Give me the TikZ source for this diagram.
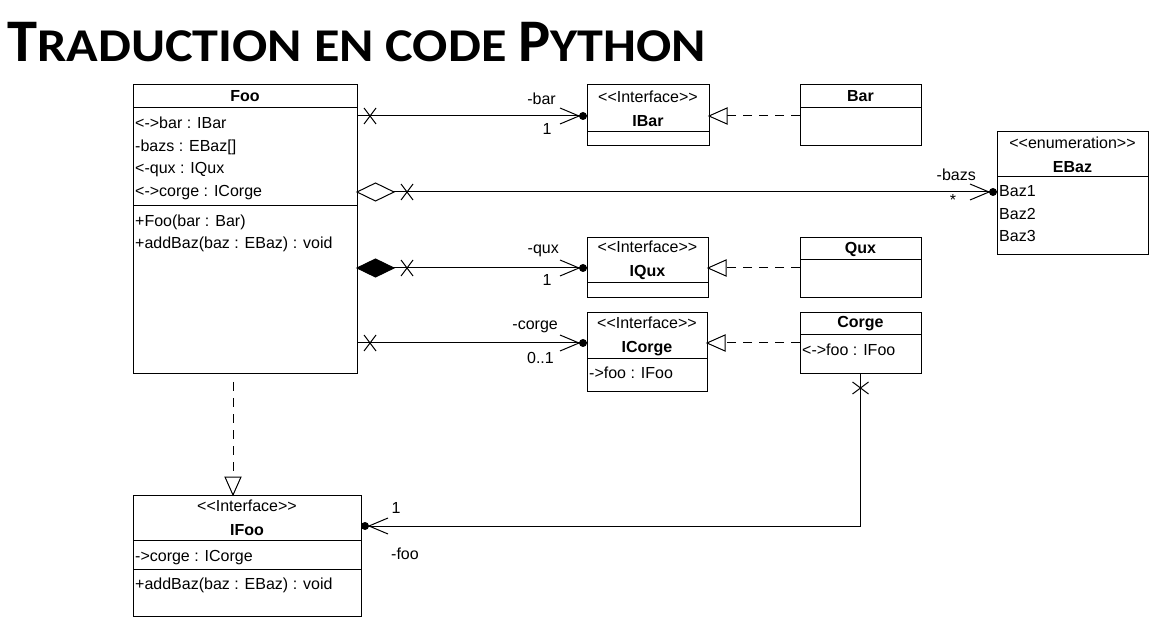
\documentclass[tikz,border=0pt]{standalone}
\usepackage{fontspec}
\setmainfont{Liberation Sans}
\newfontfamily\titlefont{Carlito}
\newfontfamily\titlesc{Carlito}[FakeStretch = 1.11]

\tikzset{
  umlbox/.style = {draw, line width = 1pt, inner sep = 0pt, outer sep = 0pt, anchor = north west, align = center, font = \fontsize{16}{24}\selectfont},
  attr/.style = {inner sep = 0pt, anchor = west, font = \fontsize{16}{18}\selectfont, text height = 11pt, text depth = 3pt},
  role/.style = {inner sep = 0pt, font = \fontsize{16}{18}\selectfont},
  assoc/.style = {line width = 1pt},
  realize/.style = {line width = 1pt, dash pattern = on 9pt off 7pt},
  nonav/.pic = {\draw[line width = 1pt] (-6, -8) -- (6, 8) (-6, 8) -- (6, -8);},
  navend/.pic = {\fill (-4, 0) circle (4pt); \draw[line width = 1pt] (-27, -8) -- (-8, 0) -- (-27, 8);},
  aggdia/.pic = {\draw[line width = 1pt, fill = white] (0, 0) -- (18.5, -9) -- (37, 0) -- (18.5, 9) -- cycle;},
  compdia/.pic = {\draw[line width = 1pt, fill = black] (0, 0) -- (18.5, -9) -- (37, 0) -- (18.5, 9) -- cycle;},
  realtip/.pic = {\draw[line width = 1pt, fill = white] (0, 0) -- (18, -8) -- (18, 8) -- cycle;}
}

\begin{document}
\begin{tikzpicture}[x = 1pt, y = -1pt]
\fill[white] (0, 0) rectangle (1168, 628);
\useasboundingbox (0, 0) rectangle (1168, 628);

\node[anchor = base west, inner sep = 0pt] (title) at (7, 62) {\bfseries\titlefont\fontsize{60.5}{60}\selectfont T\titlesc\fontsize{47}{46}\selectfont RADUCTION EN CODE \titlefont\fontsize{60.5}{60}\selectfont P\titlesc\fontsize{47}{46}\selectfont YTHON};

\node[umlbox, minimum width = 224pt, minimum height = 23pt] (foo) at (133, 85) {\textbf{Foo}};
\node[umlbox, minimum width = 224pt, minimum height = 98pt] (foo-attr) at (foo.south west) {};
\node[umlbox, minimum width = 224pt, minimum height = 168pt] (foo-ops) at (foo-attr.south west) {};
\node[attr] (foo-a1) at (135, 125) {<->bar : IBar};
\node[attr] (foo-a2) at (135, 148) {-bazs : EBaz[]};
\node[attr] (foo-a3) at (135, 170) {<-qux : IQux};
\node[attr] (foo-a4) at (135, 193) {<->corge : ICorge};
\node[attr] (foo-o1) at (135, 223) {+Foo(bar : Bar)};
\node[attr] (foo-o2) at (135, 245) {+addBaz(baz : EBaz) : void};

\node[umlbox, minimum width = 122pt, minimum height = 47pt] (ibar) at (587, 85) {<{}<Interface>{}>\\\textbf{IBar}};
\node[umlbox, minimum width = 122pt, minimum height = 14pt] (ibar-attr) at (ibar.south west) {};

\node[umlbox, minimum width = 121pt, minimum height = 23pt] (bar) at (800, 85) {\textbf{Bar}};
\node[umlbox, minimum width = 121pt, minimum height = 38pt] (bar-attr) at (bar.south west) {};

\node[umlbox, minimum width = 151pt, minimum height = 45pt] (ebaz) at (997, 132) {<{}<enumeration>{}>\\\textbf{EBaz}};
\node[umlbox, minimum width = 151pt, minimum height = 78pt] (ebaz-lits) at (ebaz.south west) {};
\node[attr] (ebaz-l1) at (999, 193) {Baz1};
\node[attr] (ebaz-l2) at (999, 216) {Baz2};
\node[attr] (ebaz-l3) at (999, 238) {Baz3};

\node[umlbox, minimum width = 121pt, minimum height = 45pt] (iqux) at (587, 238) {<{}<Interface>{}>\\\textbf{IQux}};
\node[umlbox, minimum width = 121pt, minimum height = 15pt] (iqux-attr) at (iqux.south west) {};

\node[umlbox, minimum width = 121pt, minimum height = 22pt] (qux) at (800, 238) {\textbf{Qux}};
\node[umlbox, minimum width = 121pt, minimum height = 38pt] (qux-attr) at (qux.south west) {};

\node[umlbox, minimum width = 120pt, minimum height = 46pt] (icorge) at (587, 313) {<{}<Interface>{}>\\\textbf{ICorge}};
\node[umlbox, minimum width = 120pt, minimum height = 33pt] (icorge-attr) at (icorge.south west) {};
\node[attr] (icorge-a1) at (589, 375) {->foo : IFoo};

\node[umlbox, minimum width = 121pt, minimum height = 22pt] (corge) at (800, 313) {\textbf{Corge}};
\node[umlbox, minimum width = 121pt, minimum height = 39pt] (corge-attr) at (corge.south west) {};
\node[attr] (corge-a1) at (802, 352) {<->foo : IFoo};

\node[umlbox, minimum width = 228pt, minimum height = 45pt] (ifoo) at (133, 495) {<{}<Interface>{}>\\\textbf{IFoo}};
\node[umlbox, minimum width = 228pt, minimum height = 29pt] (ifoo-attr) at (ifoo.south west) {};
\node[umlbox, minimum width = 228pt, minimum height = 47pt] (ifoo-ops) at (ifoo-attr.south west) {};
\node[attr] (ifoo-a1) at (135, 557) {->corge : ICorge};
\node[attr] (ifoo-o1) at (135, 585) {+addBaz(baz : EBaz) : void};

\coordinate (foo-bar) at (357, 116);
\draw[assoc] (foo-bar) -- (foo-bar -| ibar.west) coordinate (ibar-in);
\pic at ([xshift = 13pt] foo-bar) {nonav};
\pic at (ibar-in) {navend};
\node[role, anchor = east] (bar-role) at (556, 99) {-bar};
\node[role] (bar-mult) at (547, 129) {1};

\coordinate (foo-bazs) at (357, 192);
\draw[assoc] (foo-bazs) -- (foo-bazs -| ebaz-lits.west) coordinate (ebaz-in);
\pic at (foo-bazs) {aggdia};
\pic at ([xshift = 50pt] foo-bazs) {nonav};
\pic at (ebaz-in) {navend};
\node[role, anchor = east] (bazs-role) at (976, 175) {-bazs};
\node[role] (bazs-mult) at (953, 200) {*};

\coordinate (foo-qux) at (357, 268);
\draw[assoc] (foo-qux) -- (foo-qux -| iqux.west) coordinate (iqux-in);
\pic at (foo-qux) {compdia};
\pic at ([xshift = 50pt] foo-qux) {nonav};
\pic at (iqux-in) {navend};
\node[role, anchor = east] (qux-role) at (559, 251) {-qux};
\node[role] (qux-mult) at (547, 280) {1};

\coordinate (foo-corge) at (357, 343);
\draw[assoc] (foo-corge) -- (foo-corge -| icorge.west) coordinate (icorge-in);
\pic at ([xshift = 13pt] foo-corge) {nonav};
\pic at (icorge-in) {navend};
\node[role, anchor = east] (corge-role) at (558, 327) {-corge};
\node[role, anchor = east] (corge-mult) at (554, 358) {0..1};

\draw[realize] (bar-attr.west |- ibar-in) -- (ibar.east |- ibar-in) coordinate (ibar-tip);
\pic at (ibar-tip) {realtip};

\draw[realize] (qux-attr.west |- iqux-in) -- (iqux.east |- iqux-in) coordinate (iqux-tip);
\pic at (iqux-tip) {realtip};

\draw[realize] (corge-attr.west |- icorge-in) -- (icorge.east |- icorge-in) coordinate (icorge-tip);
\pic at (icorge-tip) {realtip};

\coordinate (foo-down) at (233, 374);
\draw[realize] ([yshift = -8pt] foo-down) -- (foo-down |- ifoo.north) coordinate (ifoo-tip);
\pic[rotate = 90] at (ifoo-tip) {realtip};

\coordinate (ifoo-in) at (361, 526);
\draw[assoc] (corge-attr.south) |- (ifoo-in);
\pic[rotate = 90] at ([yshift = -14pt] corge-attr.south) {nonav};
\pic[rotate = 180] at (ifoo-in) {navend};
\node[role] (foo-mult) at (396, 508) {1};
\node[role] (foo-role) at (405, 554) {-foo};
\end{tikzpicture}
\end{document}
